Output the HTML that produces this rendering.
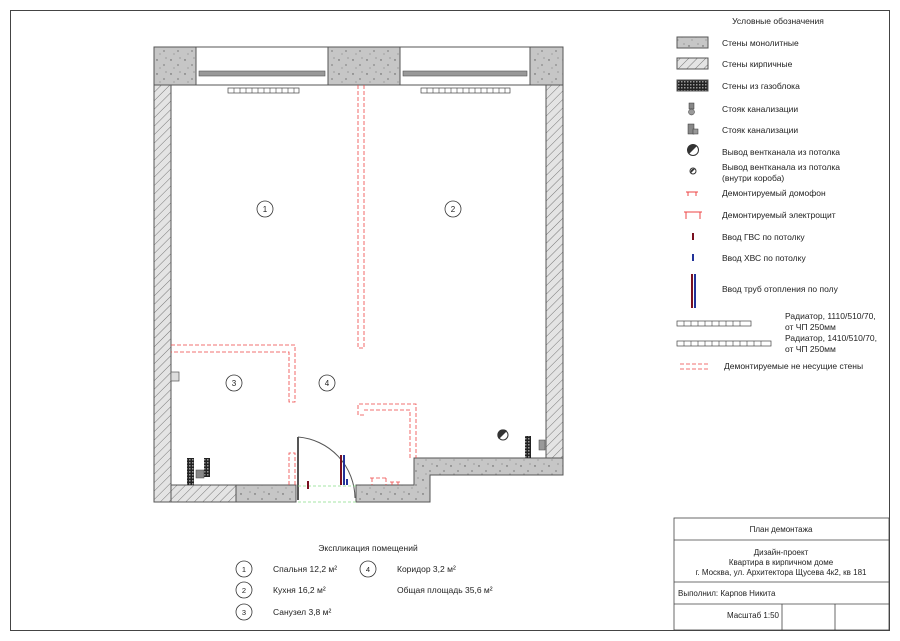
<!DOCTYPE html>
<html><head><meta charset="utf-8"><style>
body{margin:0;background:#fff}
svg text{font-family:"Liberation Sans","DejaVu Sans",sans-serif;fill:#222}
</style></head><body>
<svg width="900" height="636" viewBox="0 0 900 636" xmlns="http://www.w3.org/2000/svg">
<defs>
<pattern id="hatch" width="6" height="6" patternUnits="userSpaceOnUse" patternTransform="rotate(45)">
<rect width="6" height="6" fill="#e4e4e4"/><line x1="0" y1="0" x2="0" y2="6" stroke="#777" stroke-width="1"/></pattern>
<pattern id="conc" width="14" height="14" patternUnits="userSpaceOnUse">
<rect width="14" height="14" fill="#c6c6c6"/><circle cx="3" cy="4" r="0.7" fill="#555"/><circle cx="10" cy="9" r="0.6" fill="#444"/><circle cx="6" cy="12" r="0.5" fill="#666"/><circle cx="12" cy="2" r="0.5" fill="#555"/></pattern>
<pattern id="gas" width="3" height="3" patternUnits="userSpaceOnUse"><rect width="3" height="3" fill="#222"/><rect width="1.5" height="1.5" fill="#999"/></pattern>
</defs>
<rect x="10.5" y="10.5" width="879" height="620" fill="none" stroke="#444"/>

<!-- top walls -->
<rect x="154" y="47" width="42" height="38" fill="url(#conc)" stroke="#555"/>
<rect x="328" y="47" width="72" height="38" fill="url(#conc)" stroke="#555"/>
<rect x="530" y="47" width="33" height="38" fill="url(#conc)" stroke="#555"/>
<rect x="196" y="47" width="132" height="38" fill="#fff" stroke="#555"/>
<rect x="400" y="47" width="130" height="38" fill="#fff" stroke="#555"/>
<rect x="199" y="71" width="126" height="5" fill="#999" stroke="#555" stroke-width="0.6"/>
<rect x="403" y="71" width="124" height="5" fill="#999" stroke="#555" stroke-width="0.6"/>
<!-- radiators -->
<g fill="#fff" stroke="#444" stroke-width="0.7">
<rect x="228" y="88" width="71" height="5"/><rect x="421" y="88" width="89" height="5"/></g>
<g stroke="#444" stroke-width="0.6">
<path d="M234 88v5M240 88v5M246 88v5M252 88v5M258 88v5M264 88v5M270 88v5M276 88v5M282 88v5M288 88v5M294 88v5"/>
<path d="M427 88v5M433 88v5M439 88v5M445 88v5M451 88v5M457 88v5M463 88v5M469 88v5M475 88v5M481 88v5M487 88v5M493 88v5M499 88v5M505 88v5"/></g>

<!-- side walls -->
<rect x="154" y="85" width="17" height="417" fill="url(#hatch)" stroke="#555"/>
<rect x="546" y="85" width="17" height="373" fill="url(#hatch)" stroke="#555"/>
<rect x="171" y="485" width="65" height="17" fill="url(#hatch)" stroke="#555"/>
<rect x="171" y="372" width="8" height="9" fill="#ddd" stroke="#555" stroke-width="0.7"/>
<path d="M236 485H296V502H236Z" fill="url(#conc)" stroke="#555"/>
<path d="M356 485H414V458H563V475H430V502H356Z" fill="url(#conc)" stroke="#555"/>
<!-- door -->
<line x1="298" y1="437" x2="298" y2="500" stroke="#555" stroke-width="2"/>
<path d="M298 437 A62 62 0 0 1 355 498" fill="none" stroke="#555"/>
<line x1="298" y1="486" x2="356" y2="486" stroke="#8d8" stroke-dasharray="3 2" stroke-width="0.7"/>
<line x1="298" y1="502" x2="356" y2="502" stroke="#8d8" stroke-dasharray="3 2" stroke-width="0.7"/>
<!-- pipes -->
<rect x="340" y="455" width="2" height="30" fill="#7a1020"/><rect x="343" y="455" width="2" height="30" fill="#223399"/>
<rect x="307" y="481" width="2" height="8" fill="#7a1020"/><rect x="346" y="479" width="2" height="6" fill="#223399"/>
<!-- red dashed -->
<g fill="none" stroke="#e44" stroke-width="0.8" stroke-dasharray="4 2">
<path d="M358 85V348H364V85"/>
<path d="M171 345H295V402H289V352H171"/>
<path d="M364 415H358V404H416V458M410 458V410H364"/>
<path d="M289 485V453H295V485"/>
<path d="M370 478H388M372 478V485M386 478V485M390 482H400M392 482V485M398 482V485"/>
</g>
<!-- bathroom elements -->
<rect x="187" y="458" width="7" height="27" fill="url(#gas)"/><rect x="204" y="458" width="6" height="19" fill="url(#gas)"/>
<rect x="196" y="470" width="8" height="8" fill="#888" stroke="#444" stroke-width="0.5"/>
<rect x="525" y="436" width="6" height="22" fill="url(#gas)"/><rect x="539" y="440" width="6" height="10" fill="#999" stroke="#444" stroke-width="0.5"/>
<circle cx="503" cy="435" r="5" fill="#fff" stroke="#333"/><path d="M499 439 L507 431 A5 5 0 0 0 499 439Z" fill="#333"/>

<!-- room numbers -->
<g fill="#fff" stroke="#333" stroke-width="0.8">
<circle cx="265" cy="209" r="8"/><circle cx="453" cy="209" r="8"/><circle cx="234" cy="383" r="8"/><circle cx="327" cy="383" r="8"/></g>
<g font-size="8" text-anchor="middle"><text x="265" y="212">1</text><text x="453" y="212">2</text><text x="234" y="386">3</text><text x="327" y="386">4</text></g>

<!-- legend -->
<g font-size="8.5">
<text x="778" y="24" text-anchor="middle">Условные обозначения</text>
<rect x="677" y="37" width="31" height="11" fill="url(#conc)" stroke="#555"/><text x="722" y="46">Стены монолитные</text>
<rect x="677" y="58" width="31" height="11" fill="url(#hatch)" stroke="#555"/><text x="722" y="67">Стены кирпичные</text>
<rect x="677" y="80" width="31" height="11" fill="url(#gas)" stroke="#555"/><text x="722" y="89">Стены из газоблока</text>
<rect x="689" y="103" width="5" height="6" fill="#888" stroke="#333" stroke-width="0.5"/><circle cx="691.5" cy="112" r="3" fill="#999" stroke="#333" stroke-width="0.5"/><text x="722" y="112">Стояк канализации</text>
<rect x="688" y="124" width="6" height="10" fill="#888" stroke="#333" stroke-width="0.5"/><rect x="693" y="129" width="5" height="5" fill="#999" stroke="#333" stroke-width="0.5"/><text x="722" y="133">Стояк канализации</text>
<circle cx="693" cy="150" r="5.5" fill="#fff" stroke="#333"/><path d="M689 154 L697 146 A5.5 5.5 0 0 0 689 154Z" fill="#333"/><text x="722" y="155">Вывод вентканала из потолка</text>
<circle cx="693" cy="171" r="3" fill="#fff" stroke="#333"/><path d="M691 173 L695 169 A3 3 0 0 0 691 173Z" fill="#333"/><text x="722" y="170">Вывод вентканала из потолка</text><text x="722" y="181">(внутри короба)</text>
<path d="M686 192H698M688 192V196M696 192V196" stroke="#e44" fill="none"/><text x="722" y="196">Демонтируемый домофон</text>
<path d="M684 212H702M686 212V219M700 212V219" stroke="#e44" fill="none"/><text x="722" y="218">Демонтируемый электрощит</text>
<rect x="692" y="233" width="2" height="7" fill="#7a1020"/><text x="722" y="240">Ввод ГВС по потолку</text>
<rect x="692" y="254" width="2" height="7" fill="#223399"/><text x="722" y="261">Ввод ХВС по потолку</text>
<rect x="691" y="274" width="2" height="34" fill="#7a1020"/><rect x="694" y="274" width="2" height="34" fill="#223399"/><text x="722" y="292">Ввод труб отопления по полу</text>
<text x="785" y="319">Радиатор, 1110/510/70,</text><text x="785" y="330">от ЧП 250мм</text>
<text x="785" y="341">Радиатор, 1410/510/70,</text><text x="785" y="352">от ЧП 250мм</text>
<text x="724" y="369">Демонтируемые не несущие стены</text>
</g>
<rect x="677" y="321" width="74" height="5" fill="#fff" stroke="#444" stroke-width="0.7"/>
<rect x="677" y="341" width="94" height="5" fill="#fff" stroke="#444" stroke-width="0.7"/>
<path d="M684 321v5M691 321v5M698 321v5M705 321v5M712 321v5M719 321v5M726 321v5M733 321v5M740 321v5M684 341v5M691 341v5M698 341v5M705 341v5M712 341v5M719 341v5M726 341v5M733 341v5M740 341v5M747 341v5M754 341v5M761 341v5" stroke="#444" stroke-width="0.6"/>
<path d="M680 364H708M680 369H708" stroke="#e44" stroke-dasharray="4 2" stroke-width="0.8"/>

<!-- title block -->
<g fill="none" stroke="#444" stroke-width="0.8">
<rect x="674" y="518" width="215" height="112"/>
<path d="M674 540H889M674 582H889M674 604H889M782 604V630M835 604V630"/></g>
<g font-size="8" text-anchor="middle">
<text x="781" y="532">План демонтажа</text>
<text x="781" y="555">Дизайн-проект</text>
<text x="781" y="565">Квартира в кирпичном доме</text>
<text x="781" y="575">г. Москва, ул. Архитектора Щусева 4к2, кв 181</text>
<text x="678" y="596" text-anchor="start">Выполнил: Карпов Никита</text>
<text x="779" y="618" text-anchor="end">Масштаб 1:50</text>
</g>

<!-- explication -->
<g font-size="8.5">
<text x="368" y="551" text-anchor="middle">Экспликация помещений</text>
<g fill="#fff" stroke="#333" stroke-width="0.8"><circle cx="244" cy="569" r="8"/><circle cx="244" cy="590" r="8"/><circle cx="244" cy="612" r="8"/><circle cx="368" cy="569" r="8"/></g>
<g font-size="7.5" text-anchor="middle"><text x="244" y="572">1</text><text x="244" y="593">2</text><text x="244" y="615">3</text><text x="368" y="572">4</text></g>
<text x="273" y="572">Спальня 12,2 м²</text>
<text x="273" y="593">Кухня 16,2 м²</text>
<text x="273" y="615">Санузел 3,8 м²</text>
<text x="397" y="572">Коридор 3,2 м²</text>
<text x="397" y="593">Общая площадь 35,6 м²</text>
</g>
</svg>
</body></html>
